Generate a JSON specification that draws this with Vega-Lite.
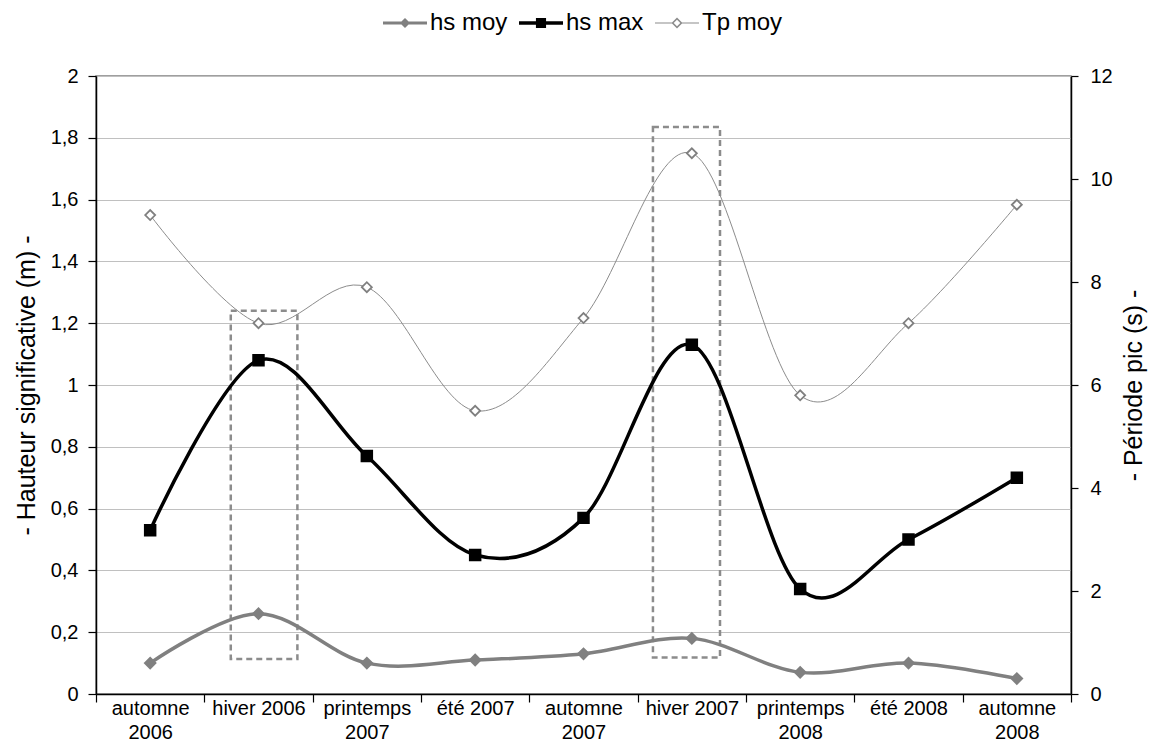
{
  "$schema": "https://vega.github.io/schema/vega-lite/v6.json",
  "width": 975,
  "height": 618,
  "autosize": {"type": "none"},
  "padding": {"left": 96, "top": 76, "right": 79, "bottom": 62},
  "background": "white",
  "config": {
    "view": {"stroke": "#808080", "strokeWidth": 1.5},
    "axis": {
      "labelFont": "Liberation Sans",
      "labelFontSize": 20,
      "labelColor": "black",
      "titleFont": "Liberation Sans",
      "titleFontSize": 25,
      "titleFontWeight": "normal",
      "titleColor": "black",
      "domainColor": "black",
      "domainWidth": 1.5,
      "tickColor": "black",
      "tickWidth": 1.2
    }
  },
  "data": {
    "values": [
      {"cat": "automne 2006", "hsmoy": 0.10, "hsmax": 0.53, "tp": 9.3},
      {"cat": "hiver 2006", "hsmoy": 0.26, "hsmax": 1.08, "tp": 7.2},
      {"cat": "printemps 2007", "hsmoy": 0.10, "hsmax": 0.77, "tp": 7.9},
      {"cat": "été 2007", "hsmoy": 0.11, "hsmax": 0.45, "tp": 5.5},
      {"cat": "automne 2007", "hsmoy": 0.13, "hsmax": 0.57, "tp": 7.3},
      {"cat": "hiver 2007", "hsmoy": 0.18, "hsmax": 1.13, "tp": 10.5},
      {"cat": "printemps 2008", "hsmoy": 0.07, "hsmax": 0.34, "tp": 5.8},
      {"cat": "été 2008", "hsmoy": 0.10, "hsmax": 0.50, "tp": 7.2},
      {"cat": "automne 2008", "hsmoy": 0.05, "hsmax": 0.70, "tp": 9.5}
    ]
  },
  "layer": [
    {
      "layer": [
        {
          "data": {"values": [{"cat": "hiver 2006", "y0": 0.113, "y1": 1.24}]},
          "mark": {"type": "rect", "fill": "transparent", "stroke": "#8c8c8c", "strokeWidth": 2.5, "strokeDash": [6, 4]},
          "encoding": {
            "x": {"field": "cat", "type": "nominal", "bandPosition": 0.244},
            "x2": {"field": "cat", "bandPosition": 0.859},
            "y": {"field": "y0", "type": "quantitative"},
            "y2": {"field": "y1"}
          }
        },
        {
          "data": {"values": [{"cat": "hiver 2007", "y0": 0.118, "y1": 1.835}]},
          "mark": {"type": "rect", "fill": "transparent", "stroke": "#8c8c8c", "strokeWidth": 2.5, "strokeDash": [6, 4]},
          "encoding": {
            "x": {"field": "cat", "type": "nominal", "bandPosition": 0.141},
            "x2": {"field": "cat", "bandPosition": 0.76},
            "y": {"field": "y0", "type": "quantitative"},
            "y2": {"field": "y1"}
          }
        },
        {
          "mark": {"type": "line", "interpolate": "cardinal", "tension": 0, "stroke": "#808080", "strokeWidth": 3.5},
          "encoding": {
            "x": {
              "field": "cat",
              "type": "nominal",
              "scale": {
                "type": "band",
                "paddingInner": 0,
                "paddingOuter": 0,
                "domain": ["automne 2006", "hiver 2006", "printemps 2007", "été 2007", "automne 2007", "hiver 2007", "printemps 2008", "été 2008", "automne 2008"]
              },
              "axis": {
                "title": null,
                "labelAngle": 0,
                "labelAlign": "center",
                "tickBand": "extent",
                "tickSize": 8,
                "labelPadding": 6,
                "labelLimit": 200,
                "labelLineHeight": 24,
                "labelExpr": "datum.label == 'automne 2006' ? ['automne', '2006'] : datum.label == 'printemps 2007' ? ['printemps', '2007'] : datum.label == 'automne 2007' ? ['automne', '2007'] : datum.label == 'printemps 2008' ? ['printemps', '2008'] : datum.label == 'automne 2008' ? ['automne', '2008'] : datum.label"
              }
            },
            "y": {
              "field": "hsmoy",
              "type": "quantitative",
              "scale": {"domain": [0, 2], "nice": false, "zero": true},
              "axis": {
                "title": "- Hauteur significative (m) -",
                "values": [0, 0.2, 0.4, 0.6, 0.8, 1, 1.2, 1.4, 1.6, 1.8, 2],
                "format": ".1~f",
                "labelExpr": "replace(datum.label, '.', ',')",
                "grid": true,
                "gridColor": "#c0c0c0",
                "gridWidth": 1.2,
                "tickSize": 8,
                "labelPadding": 10,
                "titlePadding": 11
              }
            }
          }
        },
        {
          "mark": {"type": "point", "shape": "diamond", "filled": true, "fill": "#808080", "stroke": "#808080", "size": 110, "opacity": 1},
          "encoding": {"x": {"field": "cat", "type": "nominal"}, "y": {"field": "hsmoy", "type": "quantitative"}}
        },
        {
          "mark": {"type": "line", "interpolate": "cardinal", "tension": 0, "stroke": "black", "strokeWidth": 3.5},
          "encoding": {"x": {"field": "cat", "type": "nominal"}, "y": {"field": "hsmax", "type": "quantitative"}}
        },
        {
          "mark": {"type": "point", "shape": "square", "filled": true, "fill": "black", "stroke": "black", "size": 110, "opacity": 1},
          "encoding": {"x": {"field": "cat", "type": "nominal"}, "y": {"field": "hsmax", "type": "quantitative"}}
        },
        {
          "transform": [{"filter": "datum.hsmoy < -100"}],
          "mark": {"type": "point", "filled": true, "opacity": 1, "strokeWidth": 0},
          "encoding": {
            "shape": {
              "field": "cat", "type": "nominal",
              "scale": {
                "domain": ["hs moy", "hs max", "Tp moy"],
                "range": [
                  "M-1,-0.068L1,-0.068L1,0.068L-1,0.068ZM0,-0.23L0.23,0L0,0.23L-0.23,0Z",
                  "M-1,-0.08L1,-0.08L1,0.08L-1,0.08ZM-0.23,-0.23L0.23,-0.23L0.23,0.23L-0.23,0.23Z",
                  "M-1,-0.025L-0.2,-0.025L-0.2,0.025L-1,0.025ZM0.2,-0.025L1,-0.025L1,0.025L0.2,0.025ZM0,-0.25L0.25,0L0,0.25L-0.25,0ZM0,-0.15L-0.15,0L0,0.15L0.15,0Z"
                ]
              },
              "legend": {
                "title": null,
                "orient": "none",
                "direction": "horizontal",
                "legendX": 287,
                "legendY": -75,
                "padding": 0,
                "symbolSize": 1936,
                "symbolStrokeWidth": 0,
                "labelOffset": 3,
                "columnPadding": 11,
                "labelFont": "Liberation Sans",
                "labelFontSize": 24,
                "labelColor": "black"
              }
            },
            "color": {
              "field": "cat", "type": "nominal",
              "scale": {"domain": ["hs moy", "hs max", "Tp moy"], "range": ["#808080", "#000000", "#8c8c8c"]}
            }
          }
        }
      ]
    },
    {
      "layer": [
        {
          "mark": {"type": "line", "interpolate": "cardinal", "tension": 0, "stroke": "#8c8c8c", "strokeWidth": 1},
          "encoding": {
            "x": {"field": "cat", "type": "nominal"},
            "y": {
              "field": "tp",
              "type": "quantitative",
              "scale": {"domain": [0, 12], "nice": false},
              "axis": {
                "orient": "right",
                "title": "- Période pic (s) -",
                "titleAngle": 270,
                "values": [0, 2, 4, 6, 8, 10, 12],
                "grid": false,
                "tickSize": 7,
                "labelPadding": 12,
                "titlePadding": 34
              }
            }
          }
        },
        {
          "mark": {"type": "point", "shape": "diamond", "filled": true, "fill": "white", "stroke": "#808080", "strokeWidth": 1.8, "size": 100, "opacity": 1},
          "encoding": {"x": {"field": "cat", "type": "nominal"}, "y": {"field": "tp", "type": "quantitative"}}
        }
      ]
    }
  ],
  "resolve": {"scale": {"y": "independent"}}
}
